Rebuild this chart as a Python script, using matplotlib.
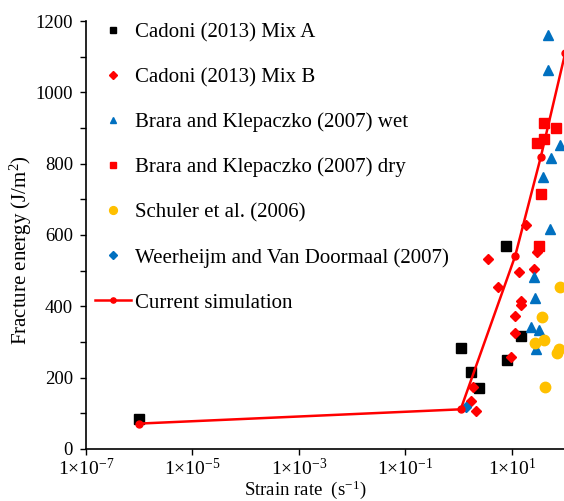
import matplotlib.pyplot as plt
from matplotlib.ticker import FixedLocator, NullLocator

plt.rcParams['font.family'] = ['Liberation Serif', 'DejaVu Serif']
plt.rcParams['mathtext.fontset'] = 'custom'
plt.rcParams['mathtext.rm'] = 'Liberation Serif'
plt.rcParams['mathtext.it'] = 'Liberation Serif:italic'

# Cadoni (2013) Mix A
mixa_x = [1e-6, 7.7, 1.1, 1.7, 2.4, 8.0, 14.8]
mixa_y = [84, 569, 283, 216, 171, 250, 317]

# Cadoni (2013) Mix B
mixb_x = [3.55, 18.2, 29.5, 13.5, 25.7, 5.5, 14.8, 14.8, 11.5, 11.5, 9.5, 1.86, 1.7, 2.1]
mixb_y = [533, 628, 552, 496, 505, 454, 415, 403, 373, 325, 258, 174, 135, 107]

# Brara and Klepaczko (2007) wet
wet_x = [48, 48, 80, 54, 38, 51, 25.7, 27, 23, 32, 28]
wet_y = [1161, 1063, 852, 816, 763, 617, 482, 423, 342, 334, 280]

# Brara and Klepaczko (2007) dry
dry_x = [40, 68, 29.5, 40, 35, 32]
dry_y = [914, 900, 858, 869, 715, 569]

# Schuler et al. (2006)
sch_x = [80, 36, 27, 40, 70, 76, 41.5]
sch_y = [454, 370, 297, 306, 269, 280, 174]

# Weerheijm and Van Doormaal (2007)
wee_x = [1.37]
wee_y = [118]

# Current simulation
sim_x = [1e-6, 1.09, 11.5, 35, 100]
sim_y = [71, 111, 541, 820, 1110]

fig = plt.figure(figsize=(5.64, 5.01), dpi=100)
ax = fig.add_axes([0.1525, 0.104, 0.944, 0.854])

ax.plot(mixa_x, mixa_y, 's', color='black', ms=6.5, ls='none', label='Cadoni (2013) Mix A')
ax.plot(mixb_x, mixb_y, 'D', color='#FF0000', ms=5.5, ls='none', label='Cadoni (2013) Mix B')
ax.plot(wet_x, wet_y, '^', color='#0070C0', ms=6.5, ls='none', label='Brara and Klepaczko (2007) wet')
ax.plot(dry_x, dry_y, 's', color='#FF0000', ms=6.5, ls='none', label='Brara and Klepaczko (2007) dry')
ax.plot(sch_x, sch_y, 'o', color='#FFC000', ms=7.5, ls='none', label='Schuler et al. (2006)')
ax.plot(wee_x, wee_y, 'D', color='#0070C0', ms=5.5, ls='none', label='Weerheijm and Van Doormaal (2007)')
ax.plot(sim_x, sim_y, '-o', color='#FF0000', lw=1.8, ms=5, label='Current simulation', zorder=5)

ax.set_xscale('log')
ax.set_xlim(1e-7, 1e3)
ax.set_ylim(0, 1200)

xt = [1e-7, 1e-5, 1e-3, 1e-1, 1e1, 1e3]
ax.xaxis.set_major_locator(FixedLocator(xt))
ax.xaxis.set_minor_locator(NullLocator())
ax.set_xticklabels([r'$1{\times}10^{-7}$', r'$1{\times}10^{-5}$', r'$1{\times}10^{-3}$',
                    r'$1{\times}10^{-1}$', r'$1{\times}10^{1}$', ''])
yt = list(range(0, 1300, 100))
ax.set_yticks(yt)
ax.set_yticklabels([str(v) if v % 200 == 0 else '' for v in yt])

ax.tick_params(direction='out', length=4.3, width=1)
ax.tick_params(axis='x', labelsize=14, pad=2.5)
ax.tick_params(axis='y', labelsize=13.5, pad=5)
for s in ['top', 'right']:
    ax.spines[s].set_visible(False)
for s in ['left', 'bottom']:
    ax.spines[s].set_linewidth(1.2)

ax.set_xlabel(r'Strain rate  (s$^{-1}$)', fontsize=13.5)
ax.xaxis.set_label_coords(0.411, -0.068)
ax.set_ylabel(r'Fracture energy (J/m$^2$)', fontsize=15)
ax.yaxis.set_label_coords(-0.097, 0.465)

ax.legend(loc='upper left', bbox_to_anchor=(0.169, 0.955), bbox_transform=fig.transFigure,
          frameon=False, fontsize=15, handlelength=1.7, handletextpad=0.2,
          labelspacing=1.22, markerscale=0.75, borderpad=0, borderaxespad=0)

fig.savefig('out.png', dpi=100)
